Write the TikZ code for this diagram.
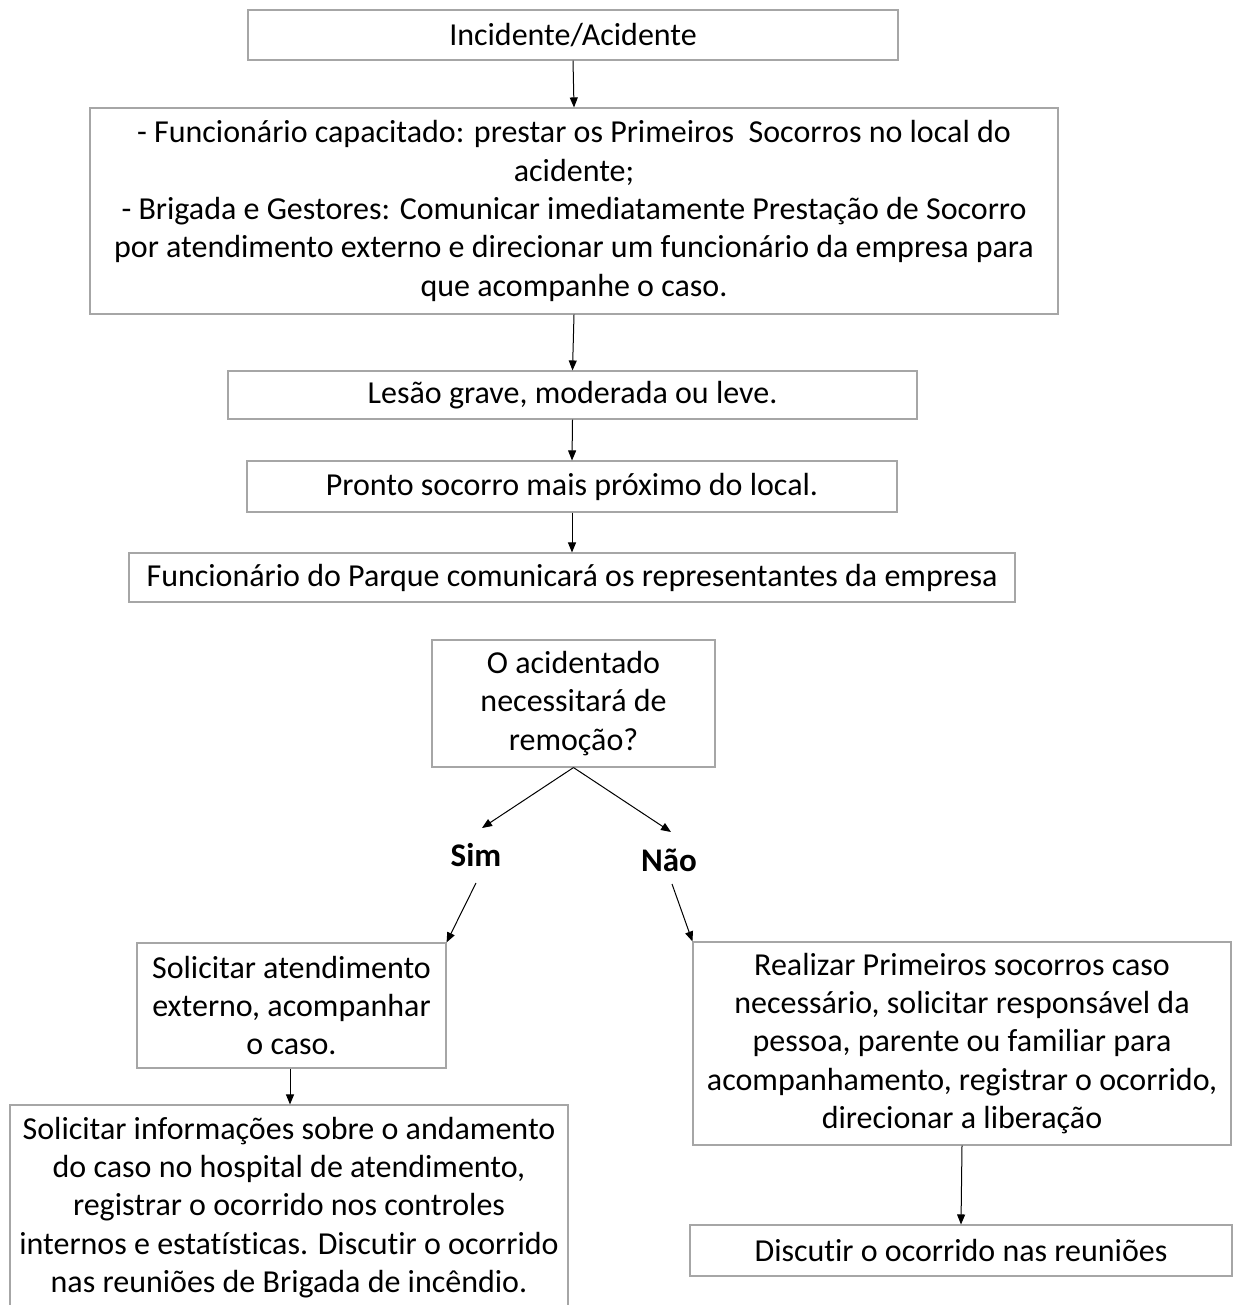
\documentclass[tikz,border=0pt]{standalone}
\usepackage{fontspec}
\setmainfont[Ligatures=NoCommon]{Carlito}
\usetikzlibrary{arrows.meta}
\begin{document}
\begin{tikzpicture}[x=1pt,y=-1pt,
  box/.style={draw=black!35,line width=1.1pt,fill=white,align=center,inner sep=0pt,
    font=\fontsize{32}{38.3}\selectfont},
  lbl/.style={font=\fontsize{33}{38}\selectfont\bfseries,inner sep=0pt},
  arr/.style={draw=black,line width=1pt,-{Triangle[length=10pt,width=8pt]}}]
\useasboundingbox (0,0) rectangle (1235,1305);
\node[box,minimum width=650,minimum height=50] (b1) at (573,35) {Incidente/Acidente};
\node[box,minimum width=968,minimum height=206] (b2) at (574,211) {- Funcionário capacitado: prestar os Primeiros\ \ Socorros no local do\\acidente;\\- Brigada e Gestores: Comunicar imediatamente Prestação de Socorro\\por atendimento externo e direcionar um funcionário da empresa para\\que acompanhe o caso.};
\node[box,minimum width=689,minimum height=48] (b3) at (572.5,395) {Lesão grave, moderada ou leve.};
\node[box,minimum width=650,minimum height=51] (b4) at (572,486.5) {Pronto socorro mais próximo do local.};
\node[box,minimum width=886,minimum height=49] (b5) at (572,577.5) {Funcionário do Parque comunicará os representantes da empresa};
\node[box,minimum width=283,minimum height=127] (b6) at (573.5,703.5) {O acidentado\\necessitará de\\remoção?};
\node[lbl] (sim) at (476,855) {Sim};
\node[lbl] (nao) at (669,860) {Não};
\node[box,minimum width=309,minimum height=125] (b8) at (291.5,1005.5) {Solicitar atendimento\\externo, acompanhar\\o caso.};
\node[box,minimum width=558,minimum height=205] (b9) at (289,1207.5) {Solicitar informações sobre o andamento\\do caso no hospital de atendimento,\\registrar o ocorrido nos controles\\internos e estatísticas. Discutir o ocorrido\\nas reuniões de Brigada de incêndio.};
\node[box,minimum width=538,minimum height=203] (b10) at (962,1043.5) {Realizar Primeiros socorros caso\\necessário, solicitar responsável da\\pessoa, parente ou familiar para\\acompanhamento, registrar o ocorrido,\\direcionar a liberação};
\node[box,minimum width=542,minimum height=51] (b11) at (961,1250.5) {Discutir o ocorrido nas reuniões};
\coordinate (simtip) at (482,828);
\coordinate (naotip) at (671,832);
\coordinate (simbot) at (476,883);
\coordinate (naobot) at (672,884);
\draw[arr] (b1.south) -- (b2.north);
\draw[arr] (b2.south) -- (b3.north);
\draw[arr] (b3.south) -- (b4.north);
\draw[arr] (b4.south) -- (b5.north);
\draw[arr] (b6.south) -- (simtip);
\draw[arr] (b6.south) -- (naotip);
\draw[arr] (simbot) -- (b8.north east);
\draw[arr] (naobot) -- (b10.north west);
\draw[arr] (b8.south -| 290,0) -- (b9.north -| 290,0);
\draw[arr] (b10.south) -- (b11.north);
\end{tikzpicture}
\end{document}
